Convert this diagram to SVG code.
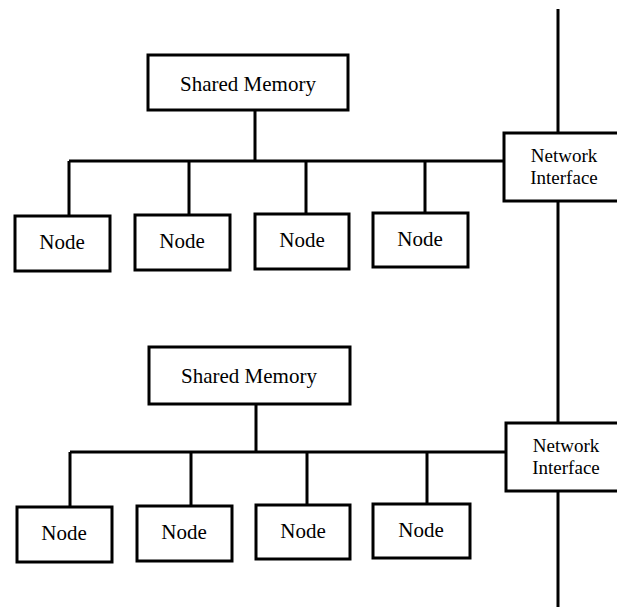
<svg xmlns="http://www.w3.org/2000/svg" width="617" height="607" viewBox="0 0 617 607">
<style>
.box{fill:#fff;stroke:#000;stroke-width:3}
.ln{fill:none;stroke:#000;stroke-width:3}
text{font-family:"Liberation Serif","Times New Roman",serif;font-size:21px;fill:#000;text-anchor:middle}
text.ni{font-size:19px}
</style>
<rect width="617" height="607" fill="#fff"/>
<g id="connectors">
<line class="ln" x1="558" y1="9" x2="558" y2="607"/>
<path class="ln" d="M255 110V161M69 161H504M69 161V216M189 161V215M306 161V214M425 161V213"/>
<path class="ln" d="M256 404V452M70 452H506M70 452V507M191 452V506M307 452V505M427 452V504"/>
</g>
<g id="sm1"><rect class="box" x="148" y="55" width="200" height="55"/><text x="248" y="91">Shared Memory</text></g>
<g id="n1a"><rect class="box" x="15" y="216" width="95" height="55"/><text x="62" y="249">Node</text></g>
<g id="n1b"><rect class="box" x="135" y="215" width="95" height="55"/><text x="182" y="248">Node</text></g>
<g id="n1c"><rect class="box" x="255" y="214" width="94" height="55"/><text x="302" y="247">Node</text></g>
<g id="n1d"><rect class="box" x="373" y="213" width="95" height="54"/><text x="420" y="246">Node</text></g>
<g id="ni1"><rect class="box" x="504" y="133" width="130" height="68"/><text class="ni" x="564" y="162">Network</text><text class="ni" x="564" y="184">Interface</text></g>
<g id="sm2"><rect class="box" x="149" y="347" width="201" height="57"/><text x="249" y="383">Shared Memory</text></g>
<g id="n2a"><rect class="box" x="17" y="507" width="95" height="55"/><text x="64" y="540">Node</text></g>
<g id="n2b"><rect class="box" x="137" y="506" width="95" height="55"/><text x="184" y="539">Node</text></g>
<g id="n2c"><rect class="box" x="256" y="505" width="94" height="54"/><text x="303" y="538">Node</text></g>
<g id="n2d"><rect class="box" x="373" y="504" width="97" height="54"/><text x="421" y="537">Node</text></g>
<g id="ni2"><rect class="box" x="506" y="423" width="130" height="68"/><text class="ni" x="566" y="452">Network</text><text class="ni" x="566" y="474">Interface</text></g>
</svg>
